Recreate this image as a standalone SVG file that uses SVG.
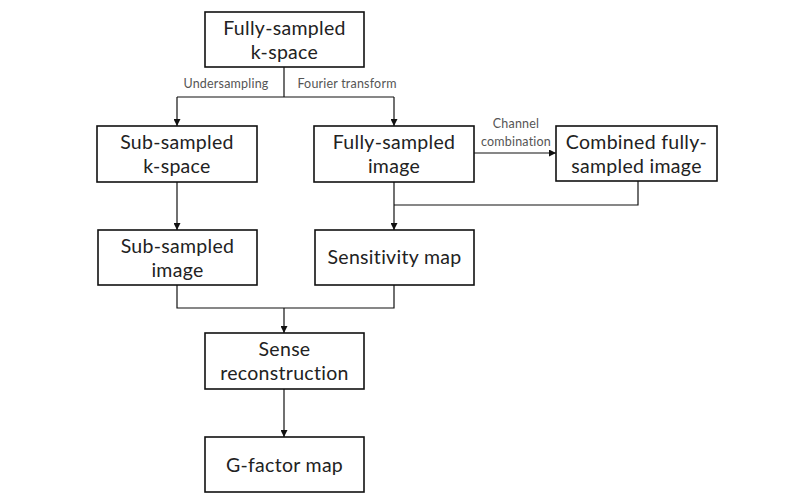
<svg xmlns="http://www.w3.org/2000/svg" width="787" height="503" viewBox="0 0 787 503">
<defs>
<marker id="arr" viewBox="0 0 10 10" refX="10" refY="5" markerWidth="7" markerHeight="7" markerUnits="userSpaceOnUse" orient="auto"><path d="M0,0 L10,5 L0,10 z" fill="#111"/></marker>
</defs>
<style>
.box{fill:#fff;stroke:#111;stroke-width:1.6}
.t{font-family:Lato,"Noto Sans",sans-serif;font-size:19.5px;fill:#222;text-anchor:middle;letter-spacing:0.3px}
.s{font-family:Lato,"Noto Sans",sans-serif;font-size:12.5px;fill:#555;text-anchor:middle;letter-spacing:0.2px}
.c{fill:none;stroke:#111;stroke-width:1.2}
</style>
<rect width="787" height="503" fill="#fff"/>
<g id="connectors">
<path class="c" d="M284,67 V97"/>
<path class="c" d="M177,97 H394"/>
<path class="c" d="M177,97 V126" marker-end="url(#arr)"/>
<path class="c" d="M394,97 V126" marker-end="url(#arr)"/>
<path class="c" d="M474,153 H556" marker-end="url(#arr)"/>
<path class="c" d="M177,182 V230" marker-end="url(#arr)"/>
<path class="c" d="M394,182 V230" marker-end="url(#arr)"/>
<path class="c" d="M638,181 V205 H394"/>
<path class="c" d="M177,285 V308 H394 V285"/>
<path class="c" d="M284,308 V333" marker-end="url(#arr)"/>
<path class="c" d="M284,389 V437" marker-end="url(#arr)"/>
<text class="s" x="226" y="88">Undersampling</text>
<text class="s" x="347" y="88">Fourier transform</text>
<text class="s" x="516" y="128">Channel</text>
<text class="s" x="516" y="146">combination</text>
</g>
<g id="n1"><rect class="box" x="205" y="12" width="159" height="55"/><text class="t" x="284.5" y="35">Fully-sampled</text><text class="t" x="284.5" y="59">k-space</text></g>
<g id="n2"><rect class="box" x="97" y="126" width="160" height="56"/><text class="t" x="177" y="149">Sub-sampled</text><text class="t" x="177" y="173">k-space</text></g>
<g id="n3"><rect class="box" x="314" y="126" width="160" height="56"/><text class="t" x="394" y="149">Fully-sampled</text><text class="t" x="394" y="173">image</text></g>
<g id="n4"><rect class="box" x="556" y="126" width="161" height="55"/><text class="t" x="636.5" y="149">Combined fully-</text><text class="t" x="636.5" y="173">sampled image</text></g>
<g id="n5"><rect class="box" x="98" y="230" width="159" height="55"/><text class="t" x="177.5" y="253">Sub-sampled</text><text class="t" x="177.5" y="277">image</text></g>
<g id="n6"><rect class="box" x="315" y="230" width="159" height="55"/><text class="t" x="394.5" y="264">Sensitivity map</text></g>
<g id="n7"><rect class="box" x="205" y="333" width="159" height="56"/><text class="t" x="284.5" y="356">Sense</text><text class="t" x="284.5" y="380">reconstruction</text></g>
<g id="n8"><rect class="box" x="205" y="437" width="159" height="55"/><text class="t" x="284.5" y="472">G-factor map</text></g>
</svg>
